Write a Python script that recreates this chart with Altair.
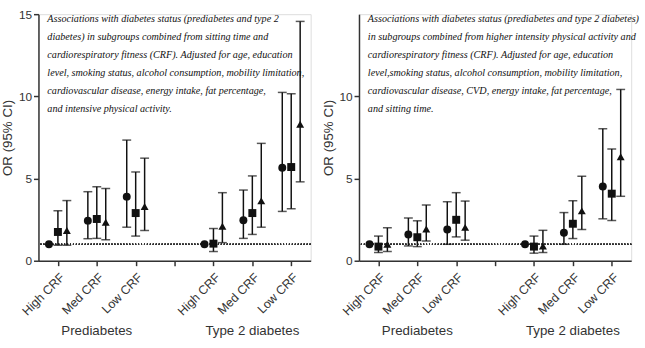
import altair as alt
import pandas as pd

crf_levels = ["High CRF", "Med CRF", "Low CRF"]
groups = ["Prediabetes", "Type 2 diabetes"]
series = ["Series 1", "Series 2", "Series 3"]
shapes = ["circle", "square", "triangle-up"]
offsets = [-0.23, 0.0, 0.23]

# Left panel: sitting time x CRF
left_or = [
    [1.0, 2.44, 3.9, 1.0, 2.46, 5.66],
    [1.75, 2.54, 2.9, 1.04, 2.9, 5.7],
    [1.84, 2.34, 3.3, 2.1, 3.64, 8.3],
]
left_lo = [
    [None, 1.34, 2.04, None, 1.36, 3.0],
    [0.94, 1.36, 1.5, 0.56, 1.6, 3.16],
    [0.94, 1.28, 1.84, 1.1, 2.04, 4.8],
]
left_hi = [
    [None, 4.2, 7.34, None, 4.3, 10.24],
    [3.04, 4.5, 5.4, 1.96, 5.16, 10.16],
    [3.66, 4.4, 6.24, 4.14, 7.14, 14.56],
]

# Right panel: higher intensity PA x CRF
right_or = [
    [1.0, 1.6, 1.9, 1.0, 1.7, 4.52],
    [0.86, 1.43, 2.49, 0.86, 2.25, 4.08],
    [1.0, 1.93, 2.03, 0.9, 3.03, 6.33],
]
right_lo = [
    [None, 0.9, 1.0, None, 1.0, 2.55],
    [0.5, 0.86, 1.45, 0.46, 1.35, 2.45],
    [0.56, 1.2, 1.25, 0.5, 1.9, 3.92],
]
right_hi = [
    [None, 2.6, 3.59, None, 2.93, 8.03],
    [1.5, 2.43, 4.14, 1.5, 3.65, 6.8],
    [2.0, 3.39, 3.63, 1.85, 5.14, 10.42],
]

left_text = [
    "Associations with diabetes status (prediabetes and type 2",
    "diabetes) in subgroups combined from sitting time and",
    "cardiorespiratory fitness (CRF). Adjusted for age, education",
    "level, smoking status, alcohol consumption, mobility limitation,",
    "cardiovascular disease, energy intake, fat percentage,",
    "and intensive physical activity.",
]
right_text = [
    "Associations with diabetes status (prediabetes and type 2 diabetes)",
    "in subgroups combined from higher intensity physical activity and",
    "cardiorespiratory fitness (CRF). Adjusted for age, education",
    "level,smoking status, alcohol consumption, mobility limitation,",
    "cardiovascular disease, CVD, energy intake, fat percentage,",
    "and sitting time.",
]

W, H = 276, 250
INK = "#111111"
AX = "#333333"
FONT = "Liberation Sans"


def build_df(ors, los, his):
    rows = []
    for si, s in enumerate(series):
        for k in range(6):
            g, l = divmod(k, 3)
            rows.append({
                "series": s,
                "group": groups[g],
                "crf": crf_levels[l],
                "pos": g * 4 + l + offsets[si],
                "or": ors[si][k],
                "lo": los[si][k],
                "hi": his[si][k],
            })
    return pd.DataFrame(rows)


tick_labels = crf_levels + [""] + crf_levels
label_expr = "[" + ",".join("'%s'" % t for t in tick_labels) + "][datum.value]"


def panel(df, text_lines, yvals, font_size):
    base = alt.Chart(df)
    xscale = alt.Scale(domain=[-0.5, 6.5], nice=False, zero=False)
    yscale = alt.Scale(domain=[0, 15], nice=False)
    xax = alt.Axis(values=list(range(7)), labelExpr=label_expr, labelAngle=-45,
                   labelAlign="right", labelBaseline="top", title=None, grid=False,
                   tickSize=5, labelFontSize=12.5, labelFont=FONT, labelColor=AX,
                   domainColor=AX, tickColor=AX, domainWidth=1.5, tickWidth=1.5,
                   labelPadding=5, labelOverlap=False)
    yax = alt.Axis(values=yvals, title="OR (95% CI)", grid=False, tickSize=5,
                   labelFontSize=12, labelFont=FONT, labelColor=AX,
                   titleFont=FONT, titleFontSize=13.5, titleFontWeight="normal",
                   titleColor=AX, domainColor=AX, tickColor=AX, domainWidth=1.5,
                   tickWidth=1.5, labelPadding=2, titlePadding=4)
    x = alt.X("pos:Q", scale=xscale, axis=xax)

    ref = alt.Chart(df).mark_rule(color="#333333", strokeDash=[1, 2], strokeWidth=1).encode(
        y=alt.Y(datum=1, scale=yscale)
    )
    rules = base.mark_rule(color=INK, strokeWidth=1.5).encode(
        x=x, y=alt.Y("lo:Q", scale=yscale, axis=yax), y2="hi:Q"
    )
    cap_hi = base.mark_tick(color=INK, orient="horizontal", size=9, thickness=1.5).encode(
        x=x, y=alt.Y("hi:Q", scale=yscale)
    )
    cap_lo = base.mark_tick(color=INK, orient="horizontal", size=9, thickness=1.5).encode(
        x=x, y=alt.Y("lo:Q", scale=yscale)
    )
    pts = base.mark_point(filled=True, color=INK, opacity=1, size=65).encode(
        x=x,
        y=alt.Y("or:Q", scale=yscale),
        shape=alt.Shape("series:N", scale=alt.Scale(domain=series, range=shapes), legend=None),
    )
    note = alt.Chart(pd.DataFrame({"t": [0]})).mark_text(
        text=text_lines, align="left", baseline="alphabetic", font="Liberation Serif",
        fontStyle="italic", fontSize=font_size, lineHeight=18.2, color=INK,
    ).encode(x=alt.value(9), y=alt.value(8))
    gdf = pd.DataFrame({"label": groups, "pos": [1, 5]})
    glab = alt.Chart(gdf).mark_text(font=FONT, fontSize=13.5, color=AX, baseline="alphabetic").encode(
        x=alt.X("pos:Q", scale=xscale), y=alt.value(H + 75), text="label:N"
    )
    return alt.layer(ref, rules, cap_hi, cap_lo, pts, note, glab).properties(width=W, height=H)


left = panel(build_df(left_or, left_lo, left_hi), left_text, [0, 5, 10, 15], 10.3)
right = panel(build_df(right_or, right_lo, right_hi), right_text, [0, 5, 10], 10.3)

chart = alt.hconcat(left, right, spacing=9).properties(
    padding={"left": 0, "top": 5, "right": 5, "bottom": 0}
).configure_view(stroke=None).configure(background="white")

chart.save("out.html", embed_options={"renderer": "svg", "actions": False})
